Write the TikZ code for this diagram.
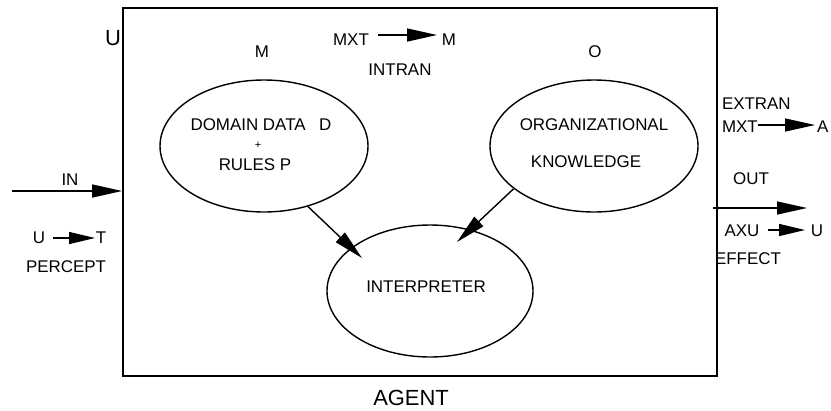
\documentclass[tikz,border=0pt]{standalone}
\usepackage{fontspec}
\setmainfont{Liberation Sans}
\usetikzlibrary{arrows.meta,shapes.geometric}
\begin{document}
\begin{tikzpicture}[x=1bp,y=-1bp,
  lbl/.style={inner sep=0pt,outer sep=0pt,anchor=center,font=\fontsize{17}{19}\selectfont},
  lbll/.style={lbl,anchor=west},
  oval/.style={ellipse,draw,line width=1.4bp,minimum width=208bp,minimum height=132bp,inner sep=0pt},
  arr/.style={line width=1.4bp,-{Triangle[length=30bp,width=13bp]}},
  sarr/.style={line width=1.4bp,-{Triangle[length=26bp,width=12bp]}}]
\useasboundingbox (0,0) rectangle (831,410);
% agent box
\node[draw,line width=1.8bp,minimum width=594bp,minimum height=368bp,inner sep=0pt] (agentbox) at (420,192) {};
% ovals
\node[oval] (dom) at (264,146) {};
\node[oval] (org) at (594,146) {};
\node[oval,minimum width=206bp] (interp) at (430,291) {};
% oval texts
\node[lbl] (domt) at (261,125) {DOMAIN DATA\hspace{0.8em}D};
\node[lbl,font=\fontsize{11}{12}\selectfont] (plus) at (258,145) {+};
\node[lbl] (rules) at (255,165) {RULES P};
\node[lbl] (orgt) at (594,125) {ORGANIZATIONAL};
\node[lbl] (know) at (586,162) {KNOWLEDGE};
\node[lbl] (interpt) at (426,287) {INTERPRETER};
% arrows into interpreter
\coordinate (tip1) at (362,258);
\coordinate (tip2) at (457,242);
\draw[arr] (dom.-54.6) -- (tip1);
\draw[arr] (org.208.2) -- (tip2);
% top labels
\node[lbl,font=\fontsize{22}{24}\selectfont] (ulab) at (113,38) {U};
\node[lbl] (mlab) at (262,52) {M};
\node[lbl] (olab) at (595,52) {O};
\node[lbl] (mxt1) at (351,40) {MXT};
\node[lbl] (m2) at (449,40) {M};
\coordinate (a1s) at (378,35);
\coordinate (a1e) at (437,35);
\draw[arr] (a1s) -- (a1e);
\node[lbl] (intran) at (400,70) {INTRAN};
% right side
\node[lbll] (extran) at (722,104) {EXTRAN};
\node[lbll] (mxt2) at (722,127) {MXT};
\coordinate (a2s) at (758,125);
\coordinate (a2e) at (815,125);
\draw[arr] (a2s) -- (a2e);
\node[lbll] (alab) at (817,127) {A};
\node[lbl] (outl) at (751,179) {OUT};
\coordinate (a3s) at (713,208);
\coordinate (a3e) at (807,208);
\draw[arr] (a3s) -- (a3e);
\node[lbl] (axu) at (742,231) {AXU};
\coordinate (a4s) at (768,230);
\coordinate (a4e) at (805,230);
\draw[sarr] (a4s) -- (a4e);
\node[lbl] (u2) at (817,231) {U};
\node[lbl] (effect) at (748,259) {EFFECT};
% left side
\node[lbl] (inl) at (70,180) {IN};
\coordinate (a5s) at (12,191);
\draw[arr] (a5s) -- (a5s -| agentbox.west);
\node[lbl] (u3) at (39,238) {U};
\coordinate (a6s) at (53,238);
\coordinate (a6e) at (95,238);
\draw[sarr] (a6s) -- (a6e);
\node[lbl] (tlab) at (101,238) {T};
\node[lbl] (percept) at (66,267) {PERCEPT};
% bottom
\node[lbl,font=\fontsize{22}{24}\selectfont] (agent) at (411,398) {AGENT};
\end{tikzpicture}
\end{document}
